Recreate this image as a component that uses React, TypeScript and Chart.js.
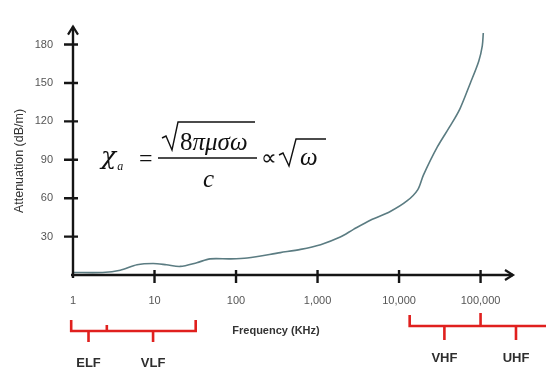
import { useEffect, useRef } from "react";
import { Chart, registerables } from "chart.js";

Chart.register(...registerables);

// ---- data (frequency in kHz, attenuation in dB/m) ----
const frequencyKHz = [1, 2.3, 3.8, 6.1, 9.6, 14, 20.6, 33, 48, 85, 137, 350, 620, 1090, 1900, 2760, 4500, 7800, 12500, 17000, 19900, 29500, 43000, 56000, 75000, 95000, 105000, 108000];
const attenuation = [2, 2, 3.7, 8, 9, 8, 6.7, 9.6, 12.6, 12.6, 13.3, 17.5, 20, 23.7, 29.6, 35.6, 43, 49.6, 57.8, 66.7, 78, 100, 117, 130, 150, 167, 179, 189];

const xTickValues = [1, 10, 100, 1000, 10000, 100000];
const yTickValues = [30, 60, 90, 120, 150, 180];

const xMin = 1;
const xMax = 250000;
const yMin = 0;
const yMax = 194;

const yTitle = "Attenuation (dB/m)";
const xTitle = "Frequency (KHz)";

// band brackets (in kHz)
const lowBracket = { start: 0.95, split: 2.6, end: 32 };
const lowBands = [
  { name: "ELF", at: 1.55 },
  { name: "VLF", at: 9.6 },
];
const highBracket = { start: 13500, mark: 100000, end: 1e7 };
const highBands = [
  { name: "VHF", at: 36000 },
  { name: "UHF", at: 272000 },
];

const overlayPlugin = {
  id: "overlay",
  afterDraw(chart: any) {
    const ctx: CanvasRenderingContext2D = chart.ctx;
    const xs = chart.scales.x;
    const ys = chart.scales.y;
    const area = chart.chartArea;
    const x0 = xs.getPixelForValue(xMin);
    const y0 = ys.getPixelForValue(yMin);

    ctx.save();
    // axes
    ctx.strokeStyle = "#151515";
    ctx.lineWidth = 2.4;
    ctx.lineCap = "butt";
    ctx.beginPath();
    ctx.moveTo(x0, y0 + 3);
    ctx.lineTo(x0, area.top);
    ctx.moveTo(x0 - 2, y0);
    ctx.lineTo(area.right, y0);
    ctx.stroke();
    // arrows
    ctx.lineWidth = 2.2;
    ctx.beginPath();
    ctx.moveTo(x0 - 5, area.top + 8);
    ctx.lineTo(x0, area.top);
    ctx.lineTo(x0 + 5, area.top + 8);
    ctx.moveTo(area.right - 8, y0 - 5);
    ctx.lineTo(area.right, y0);
    ctx.lineTo(area.right - 8, y0 + 5);
    ctx.stroke();
    // tick marks
    ctx.lineWidth = 2.4;
    ctx.beginPath();
    for (const v of yTickValues) {
      const py = ys.getPixelForValue(v);
      ctx.moveTo(x0 - 9, py);
      ctx.lineTo(x0 + 5, py);
    }
    for (const v of xTickValues) {
      if (v === xMin) continue;
      const px = xs.getPixelForValue(v);
      ctx.moveTo(px, y0 - 5);
      ctx.lineTo(px, y0 + 8);
    }
    ctx.stroke();

    // axis titles
    ctx.fillStyle = "#333";
    ctx.font = "12.5px 'Liberation Sans', Arial, sans-serif";
    ctx.textAlign = "center";
    ctx.textBaseline = "middle";
    ctx.save();
    ctx.translate(20, 161);
    ctx.rotate(-Math.PI / 2);
    ctx.fillText(yTitle, 0, 0);
    ctx.restore();
    ctx.font = "bold 11px 'Liberation Sans', Arial, sans-serif";
    ctx.fillText(xTitle, 276, 331);

    // brackets
    ctx.strokeStyle = "#e0201e";
    ctx.lineWidth = 2.6;
    ctx.lineJoin = "miter";
    const ls = xs.getPixelForValue(lowBracket.start);
    const lm = xs.getPixelForValue(lowBracket.split);
    const le = xs.getPixelForValue(lowBracket.end);
    ctx.beginPath();
    ctx.moveTo(ls, 320);
    ctx.lineTo(ls, 331);
    ctx.lineTo(le, 331);
    ctx.lineTo(le, 320);
    ctx.moveTo(lm, 331);
    ctx.lineTo(lm, 325);
    for (const b of lowBands) {
      const px = xs.getPixelForValue(b.at);
      ctx.moveTo(px, 331);
      ctx.lineTo(px, 342);
    }
    const hs = xs.getPixelForValue(highBracket.start);
    const hm = xs.getPixelForValue(highBracket.mark);
    const he = xs.getPixelForValue(highBracket.end);
    ctx.moveTo(hs, 315);
    ctx.lineTo(hs, 326);
    ctx.lineTo(he, 326);
    ctx.moveTo(hm, 326);
    ctx.lineTo(hm, 313);
    for (const b of highBands) {
      const px = xs.getPixelForValue(b.at);
      ctx.moveTo(px, 326);
      ctx.lineTo(px, 340);
    }
    ctx.stroke();

    // band labels
    ctx.fillStyle = "#2e2e2e";
    ctx.font = "bold 13px 'Liberation Sans', Arial, sans-serif";
    for (const b of lowBands) ctx.fillText(b.name, xs.getPixelForValue(b.at), 363);
    for (const b of highBands) ctx.fillText(b.name, xs.getPixelForValue(b.at), 358);

    // formula
    const serif = "'Liberation Serif', 'Times New Roman', serif";
    ctx.fillStyle = "#111";
    ctx.strokeStyle = "#111";
    ctx.textAlign = "left";
    ctx.textBaseline = "alphabetic";
    ctx.font = `italic 25px 'DejaVu Serif', ${serif}`;
    ctx.fillText("χ", 101, 164);
    const wChi = ctx.measureText("χ").width;
    ctx.font = `italic 12px ${serif}`;
    ctx.fillText("a", 101 + wChi + 1, 170);
    ctx.font = `24px ${serif}`;
    ctx.fillText("=", 139, 166);
    // fraction bar
    ctx.lineWidth = 1.4;
    ctx.beginPath();
    ctx.moveTo(158, 158);
    ctx.lineTo(257, 158);
    ctx.stroke();
    // sqrt numerator
    ctx.beginPath();
    ctx.moveTo(162, 138);
    ctx.lineTo(166, 136);
    ctx.lineTo(172, 150);
    ctx.lineTo(178, 122);
    ctx.lineTo(255, 122);
    ctx.stroke();
    ctx.font = `25px ${serif}`;
    ctx.fillText("8", 180, 150);
    const w8 = ctx.measureText("8").width;
    ctx.font = `italic 25px ${serif}`;
    ctx.fillText("πμσω", 180 + w8, 150);
    ctx.fillText("c", 203, 187);
    ctx.font = `22px ${serif}`;
    ctx.fillText("∝", 261, 165);
    // sqrt omega
    ctx.beginPath();
    ctx.moveTo(279, 155);
    ctx.lineTo(283, 153);
    ctx.lineTo(289, 166);
    ctx.lineTo(296, 139);
    ctx.lineTo(326, 139);
    ctx.stroke();
    ctx.font = `italic 25px ${serif}`;
    ctx.fillText("ω", 300, 165);
    ctx.restore();
  },
};

export default function App() {
  const canvasRef = useRef<HTMLCanvasElement | null>(null);

  useEffect(() => {
    document.body.style.margin = "0";
    const canvas = canvasRef.current;
    if (!canvas) return;
    const points = frequencyKHz.map((f, i) => ({ x: f, y: attenuation[i] }));
    const chart = new Chart(canvas, {
      type: "line",
      data: {
        datasets: [
          {
            data: points,
            borderColor: "#5b7c82",
            borderWidth: 1.6,
            pointRadius: 0,
            tension: 0.3,
            fill: false,
          },
        ],
      },
      options: {
        responsive: false,
        animation: false,
        events: [],
        layout: { padding: { left: 0, top: 13, right: 33, bottom: 0 } },
        plugins: { legend: { display: false }, tooltip: { enabled: false }, title: { display: false } },
        scales: {
          x: {
            type: "logarithmic",
            min: xMin,
            max: xMax,
            afterFit: (s: any) => {
              s.height = 97;
            },
            afterBuildTicks: (s: any) => {
              s.ticks = xTickValues.map((v) => ({ value: v }));
            },
            grid: { display: false, drawTicks: false },
            border: { display: false },
            ticks: {
              padding: 19,
              autoSkip: false,
              maxRotation: 0,
              color: "#555",
              font: { family: "'Liberation Sans', Arial, sans-serif", size: 11 },
              callback: (v: any) => Number(v).toLocaleString("en-US"),
            },
          },
          y: {
            type: "linear",
            min: yMin,
            max: yMax,
            afterFit: (s: any) => {
              s.width = 73;
            },
            afterBuildTicks: (s: any) => {
              s.ticks = yTickValues.map((v) => ({ value: v }));
            },
            grid: { display: false, drawTicks: false },
            border: { display: false },
            ticks: {
              padding: 20,
              color: "#555",
              font: { family: "'Liberation Sans', Arial, sans-serif", size: 11 },
              callback: (v: any) => String(v),
            },
          },
        },
      },
      plugins: [overlayPlugin],
    });
    return () => chart.destroy();
  }, []);

  return (
    <div style={{ width: 546, height: 372, background: "#fff" }}>
      <canvas ref={canvasRef} width={546} height={372} style={{ display: "block" }} />
    </div>
  );
}
